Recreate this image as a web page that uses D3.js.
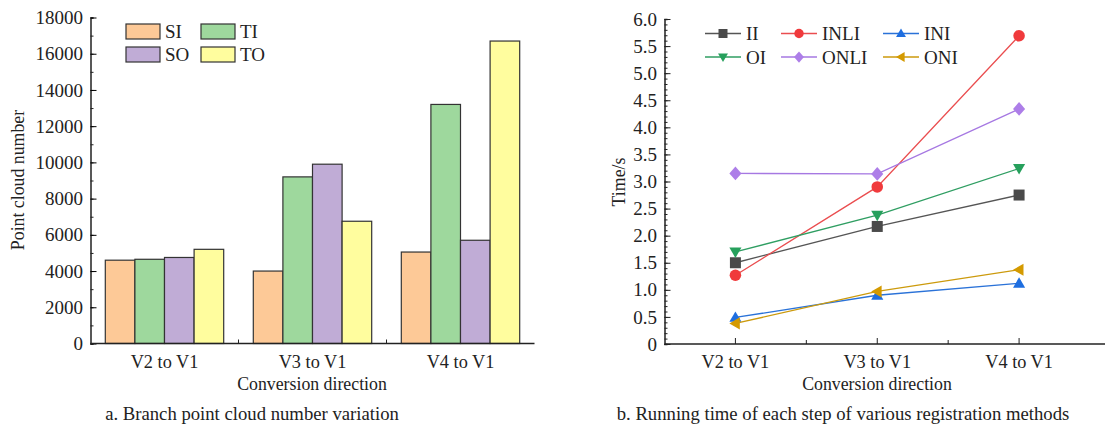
<!DOCTYPE html>
<html>
<head>
<meta charset="utf-8">
<script src="https://cdn.jsdelivr.net/npm/d3@7"></script>
<style>
  body { margin: 0; background: #fff; }
  svg text { font-family: "Liberation Serif", "Times New Roman", serif; }
</style>
</head>
<body>
<svg id="chart" width="1105" height="425"></svg>
<script>
const directions = ['V2 to V1', 'V3 to V1', 'V4 to V1'];

// panel a: branch point cloud numbers
const barSeries = ['SI', 'TI', 'SO', 'TO'];
const siValues = [4600, 4000, 5050];
const tiValues = [4650, 9200, 13200];
const soValues = [4750, 9900, 5700];
const toValues = [5200, 6750, 16700];
const barTicks = [0, 2000, 4000, 6000, 8000, 10000, 12000, 14000, 16000, 18000];

// panel b: running time
const lineSeries = ['II', 'INLI', 'INI', 'OI', 'ONLI', 'ONI'];
const iiValues = [1.5, 2.17, 2.75];
const inliValues = [1.27, 2.9, 5.69];
const iniValues = [0.49, 0.9, 1.12];
const oiValues = [1.7, 2.38, 3.24];
const onliValues = [3.15, 3.14, 4.34];
const oniValues = [0.38, 0.97, 1.37];
const timeTicks = [0, 0.5, 1, 1.5, 2, 2.5, 3, 3.5, 4, 4.5, 5, 5.5, 6];

const svg = d3.select('#chart');
const ink = '#222';
const tickFont = 19;
const catFont = 18.3;
const titleFont = 17.8;
const captionFont = 18.7;

// ---------- panel a ----------
const barData = [siValues, tiValues, soValues, toValues];
const barColors = ['#fdc997', '#9ed89d', '#c0acd6', '#fffd9e'];

const xa = d3.scaleBand().domain(directions).range([90.5, 534.5]).paddingInner(0).paddingOuter(0);
const xaInner = d3.scaleBand().domain(barSeries).range([0, xa.bandwidth()]).paddingInner(0).paddingOuter(0.5);
const ya = d3.scaleLinear().domain([0, 18000]).range([343.5, 17.5]);

const ga = svg.append('g');

barSeries.forEach((s, i) => {
  ga.selectAll(null)
    .data(directions.map((d, j) => ({ dir: d, v: barData[i][j] })))
    .enter()
    .append('rect')
    .attr('x', d => xa(d.dir) + xaInner(s))
    .attr('y', d => ya(d.v))
    .attr('width', xaInner.bandwidth())
    .attr('height', d => ya(0) - ya(d.v))
    .attr('fill', barColors[i])
    .attr('stroke', '#333')
    .attr('stroke-width', 1.2);
});

// y axis (inward ticks)
const yaAxis = ga.append('g').attr('transform', 'translate(90.5,0)');
yaAxis.call(d3.axisRight(ya).tickValues(d3.range(0, 18001, 1000)).tickSize(3).tickFormat(''));
yaAxis.call(g => g.selectAll('.tick line').attr('stroke', ink));
const yaMajor = ga.append('g').attr('transform', 'translate(90.5,0)');
yaMajor.call(d3.axisRight(ya).tickValues(barTicks).tickSize(6).tickFormat(''));
yaMajor.select('.domain').remove();
barTicks.forEach(t => {
  ga.append('text')
    .attr('x', 83)
    .attr('y', ya(t))
    .attr('dy', '0.35em')
    .attr('text-anchor', 'end')
    .attr('font-size', tickFont)
    .attr('fill', ink)
    .text(t);
});
ga.selectAll('.domain').attr('stroke', ink).attr('stroke-width', 1.5);

// x axis
const xaAxis = ga.append('g').attr('transform', `translate(0,${ ya(0) })`);
xaAxis.append('line')
  .attr('x1', 90.5).attr('x2', 534.5)
  .attr('stroke', ink).attr('stroke-width', 1.5);
directions.slice(1).forEach(d => {
  xaAxis.append('line')
    .attr('x1', xa(d)).attr('x2', xa(d))
    .attr('y1', 0).attr('y2', -4)
    .attr('stroke', ink);
});
directions.forEach(d => {
  xaAxis.append('text')
    .attr('x', xa(d) + xa.bandwidth() / 2)
    .attr('y', 24)
    .attr('text-anchor', 'middle')
    .attr('font-size', catFont)
    .attr('fill', ink)
    .text(d);
});

ga.append('text')
  .attr('x', 312)
  .attr('y', 390)
  .attr('text-anchor', 'middle')
  .attr('font-size', titleFont)
  .attr('fill', ink)
  .text('Conversion direction');

ga.append('text')
  .attr('transform', 'translate(24,180) rotate(-90)')
  .attr('text-anchor', 'middle')
  .attr('font-size', titleFont)
  .attr('fill', ink)
  .text('Point cloud number');

ga.append('text')
  .attr('x', 252)
  .attr('y', 420)
  .attr('text-anchor', 'middle')
  .attr('font-size', captionFont)
  .attr('fill', ink)
  .text('a. Branch point cloud number variation');

// legend a
const legA = ga.append('g');
barSeries.forEach((s, i) => {
  const col = i % 2;
  const row = Math.floor(i / 2);
  const legendCol = s === 'SI' || s === 'SO' ? 0 : 1;
  const legendRow = s === 'SI' || s === 'TI' ? 0 : 1;
  const lx = [126, 201][legendCol];
  const ly = [24, 47][legendRow];
  legA.append('rect')
    .attr('x', lx).attr('y', ly)
    .attr('width', 34).attr('height', 15)
    .attr('fill', barColors[i])
    .attr('stroke', '#333')
    .attr('stroke-width', 1.2);
  legA.append('text')
    .attr('x', lx + 39).attr('y', ly + 7.5)
    .attr('dy', '0.35em')
    .attr('font-size', tickFont)
    .attr('fill', ink)
    .text(s);
});

// ---------- panel b ----------
const lineData = [iiValues, inliValues, iniValues, oiValues, onliValues, oniValues];
const lineColors = ['#555555', '#ea4d4f', '#2a72d8', '#2f9e62', '#a678e2', '#cc9a0c'];
const markerColors = ['#4a4a4a', '#f03a3c', '#1e6ee0', '#26a05c', '#ad7ee8', '#d49a00'];
const markerTypes = ['square', 'circle', 'up', 'down', 'diamond', 'left'];

const xb = d3.scalePoint().domain(directions).range([664.5, 1090]).padding(0.5);
const yb = d3.scaleLinear().domain([0, 6]).range([344, 19]);

const gb = svg.append('g');

const yMinor = gb.append('g').attr('transform', 'translate(664.5,0)');
yMinor.call(d3.axisRight(yb).tickValues(d3.range(0, 60.5, 1).map(v => v / 10)).tickSize(3).tickFormat(''));
const yMajorB = gb.append('g').attr('transform', 'translate(664.5,0)');
yMajorB.call(d3.axisRight(yb).tickValues(timeTicks).tickSize(6).tickFormat(''));
yMajorB.select('.domain').remove();
gb.selectAll('.domain').attr('stroke', ink).attr('stroke-width', 1.5);
gb.selectAll('.tick line').attr('stroke', ink);
timeTicks.forEach(t => {
  gb.append('text')
    .attr('x', 657)
    .attr('y', yb(t))
    .attr('dy', '0.35em')
    .attr('text-anchor', 'end')
    .attr('font-size', tickFont)
    .attr('fill', ink)
    .text(t === 0 ? '0' : t.toFixed(1));
});

const xbAxis = gb.append('g').attr('transform', `translate(0,${ yb(0) })`);
xbAxis.append('line')
  .attr('x1', 664.5).attr('x2', 1105)
  .attr('stroke', ink).attr('stroke-width', 1.5);
directions.forEach((d, i) => {
  xbAxis.append('line')
    .attr('x1', xb(d)).attr('x2', xb(d))
    .attr('y1', 0).attr('y2', -6)
    .attr('stroke', ink);
  if (i < directions.length - 1) {
    const mx = (xb(d) + xb(directions[i + 1])) / 2;
    xbAxis.append('line')
      .attr('x1', mx).attr('x2', mx)
      .attr('y1', 0).attr('y2', -4)
      .attr('stroke', ink);
  }
  xbAxis.append('text')
    .attr('x', xb(d))
    .attr('y', 24)
    .attr('text-anchor', 'middle')
    .attr('font-size', catFont)
    .attr('fill', ink)
    .text(d);
});

gb.append('text')
  .attr('x', 877)
  .attr('y', 390)
  .attr('text-anchor', 'middle')
  .attr('font-size', titleFont)
  .attr('fill', ink)
  .text('Conversion direction');

gb.append('text')
  .attr('transform', 'translate(625,182) rotate(-90)')
  .attr('text-anchor', 'middle')
  .attr('font-size', titleFont)
  .attr('fill', ink)
  .text('Time/s');

gb.append('text')
  .attr('x', 843)
  .attr('y', 420)
  .attr('text-anchor', 'middle')
  .attr('font-size', captionFont)
  .attr('fill', ink)
  .text('b. Running time of each step of various registration methods');

function markerPath(type, s) {
  switch (type) {
    case 'square': return `M${ -s },${ -s }h${ 2 * s }v${ 2 * s }h${ -2 * s }Z`;
    case 'circle': return d3.symbol(d3.symbolCircle, Math.PI * s * s * 1.1)();
    case 'up': return `M0,${ -s * 1.1 }L${ s * 1.1 },${ s * 0.8 }L${ -s * 1.1 },${ s * 0.8 }Z`;
    case 'down': return `M0,${ s * 1.1 }L${ s * 1.1 },${ -s * 0.8 }L${ -s * 1.1 },${ -s * 0.8 }Z`;
    case 'diamond': return `M0,${ -s * 1.25 }L${ s * 1.1 },0L0,${ s * 1.25 }L${ -s * 1.1 },0Z`;
    case 'left': return `M${ -s * 1.1 },0L${ s * 0.8 },${ -s * 1.1 }L${ s * 0.8 },${ s * 1.1 }Z`;
  }
}

const line = d3.line().x((d, i) => xb(directions[i])).y(d => yb(d));

lineData.forEach((vals, i) => {
  gb.append('path')
    .attr('d', line(vals))
    .attr('fill', 'none')
    .attr('stroke', lineColors[i])
    .attr('stroke-width', 1.3);
  gb.selectAll(null)
    .data(vals)
    .enter()
    .append('path')
    .attr('transform', (d, j) => `translate(${ xb(directions[j]) },${ yb(d) })`)
    .attr('d', markerPath(markerTypes[i], 5.5))
    .attr('fill', markerColors[i]);
});

// legend b
const legB = gb.append('g');
const legX = [705, 781, 883];
const legY = [33.5, 57];
lineSeries.forEach((s, i) => {
  const lx = legX[i % 3];
  const ly = legY[Math.floor(i / 3)];
  legB.append('line')
    .attr('x1', lx).attr('x2', lx + 36)
    .attr('y1', ly).attr('y2', ly)
    .attr('stroke', lineColors[i])
    .attr('stroke-width', 1.3);
  legB.append('path')
    .attr('transform', `translate(${ lx + 18 },${ ly })`)
    .attr('d', markerPath(markerTypes[i], 4.5))
    .attr('fill', markerColors[i]);
  legB.append('text')
    .attr('x', lx + 41).attr('y', ly)
    .attr('dy', '0.35em')
    .attr('font-size', tickFont)
    .attr('fill', ink)
    .text(s);
});
</script>
</body>
</html>
